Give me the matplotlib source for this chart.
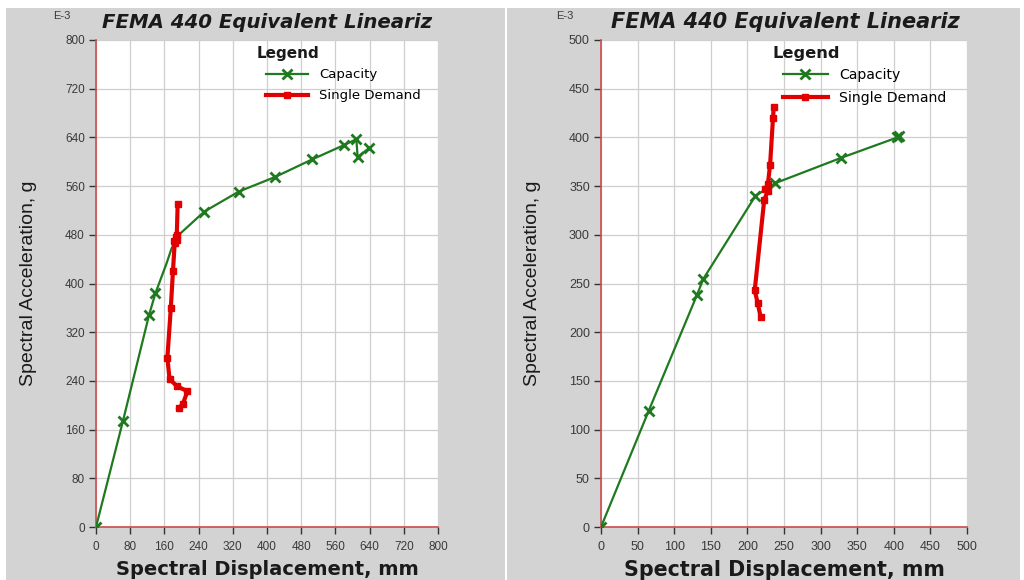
import matplotlib
matplotlib.use("Agg")
import matplotlib.pyplot as plt
from matplotlib.patches import Rectangle

plt.rcParams['font.family'] = ['Liberation Sans', 'DejaVu Sans']

# left chart data (accel in E-3 g, displacement in mm)
cap_l_x = [0, 63, 124, 139, 165, 177, 197, 253, 334, 419, 506, 579, 609, 612, 638]
cap_l_y = [0, 174, 348, 384, 433, 458, 482, 518, 551, 575, 604, 627, 637, 608, 622]
cap_l_marked = [0, 1, 2, 3, 7, 8, 9, 10, 11, 12, 13, 14]
dem_l_x = [191, 189, 186, 183, 190, 184, 180, 175, 167, 172, 190, 214, 203, 193]
dem_l_y = [530, 480, 476, 470, 472, 466, 420, 360, 278, 243, 231, 223, 202, 195]

# right chart data
cap_r_x = [0, 65, 131, 140, 211, 238, 328, 405, 407]
cap_r_y = [0, 119, 238, 255, 340, 353, 379, 400, 401]
dem_r_x = [236, 235, 231, 228, 224, 228, 223, 210, 214, 218]
dem_r_y = [431, 420, 372, 352, 347, 345, 336, 243, 230, 216]

left_ticks_x = [0, 80, 160, 240, 320, 400, 480, 560, 640, 720, 800]
left_ticks_y = [0, 80, 160, 240, 320, 400, 480, 560, 640, 720, 800]
right_ticks_x = [0, 50, 100, 150, 200, 250, 300, 350, 400, 450, 500]
right_ticks_y = [0, 50, 100, 150, 200, 250, 300, 350, 400, 450, 500]

title = "FEMA 440 Equivalent Lineariz"
green = '#1f7a1f'
red = '#e00000'
panel_gray = '#d3d3d3'

fig = plt.figure(figsize=(10.24, 5.8), dpi=100)
fig.patch.set_facecolor('white')
W, H = 1024, 580
fig.patches.append(Rectangle((6 / W, 0), 499 / W, 572 / H, transform=fig.transFigure,
                             facecolor=panel_gray, edgecolor='none', zorder=-5))
fig.patches.append(Rectangle((507 / W, 0), 513 / W, 572 / H, transform=fig.transFigure,
                             facecolor=panel_gray, edgecolor='none', zorder=-5))


def make_axes(px_left, px_right, ticks_x, ticks_y, cx, cy, dx, dy, marked,
              title_x, e3_x, k):
    ax = fig.add_axes([px_left / W, (H - 527) / H, (px_right - px_left) / W, 487 / H])
    ax.set_facecolor('white')
    ax.plot(cx, cy, color=green, lw=1.6, marker='x', ms=6.5, mew=2,
            markevery=marked, label='Capacity', zorder=3)
    ax.plot(dx, dy, color=red, lw=3, marker='s', ms=5, label='Single Demand', zorder=4)
    ax.set_xlim(ticks_x[0], ticks_x[-1])
    ax.set_ylim(ticks_y[0], ticks_y[-1])
    ax.set_xticks(ticks_x)
    ax.set_yticks(ticks_y)
    ax.grid(True, color='#cfcfcf', lw=0.9)
    ax.set_axisbelow(True)
    for s in ['top', 'right']:
        ax.spines[s].set_visible(False)
    for s in ['left', 'bottom']:
        ax.spines[s].set_color('#cc4c4c')
        ax.spines[s].set_linewidth(1.2)
    ax.tick_params(direction='out', length=5, width=1, color='#333333',
                   labelsize=8.5 * k, labelcolor='#3a3a3a', pad=3)
    ax.tick_params(axis='x', pad=5)
    ax.set_xlabel("Spectral Displacement, mm", fontsize=14 * k, fontweight='bold',
                  color='#1a1a1a', labelpad=5, family='DejaVu Sans')
    ax.set_ylabel("Spectral Acceleration, g", fontsize=14, color='#1a1a1a', labelpad=20)
    fig.text(title_x / W, 1 - 22 / H, title, fontsize=14.2 * k, fontweight='bold',
             style='italic', ha='center', va='center', color='#1a1a1a',
             family='DejaVu Sans')
    fig.text(e3_x / W, 1 - 16 / H, "E-3", fontsize=8, ha='center', va='center',
             color='#3a3a3a')
    ax.text(0.56, 0.972, "Legend", transform=ax.transAxes, fontsize=11 * k,
            fontweight='bold', ha='center', va='center', color='#1a1a1a',
            family='DejaVu Sans')
    ax.legend(loc='upper left', bbox_to_anchor=(0.497, 0.942), frameon=False,
              prop={'family': 'DejaVu Sans', 'size': 9.5 * k},
              handlelength=3.2, handletextpad=0.8, labelspacing=0.6,
              borderaxespad=0, borderpad=0)
    return ax


make_axes(96, 438, left_ticks_x, left_ticks_y, cap_l_x, cap_l_y, dem_l_x, dem_l_y,
          cap_l_marked, 267, 62, 1.0)
make_axes(601, 967, right_ticks_x, right_ticks_y, cap_r_x, cap_r_y, dem_r_x, dem_r_y,
          None, 785, 565, 1.06)

fig.savefig("out.png", dpi=100)
